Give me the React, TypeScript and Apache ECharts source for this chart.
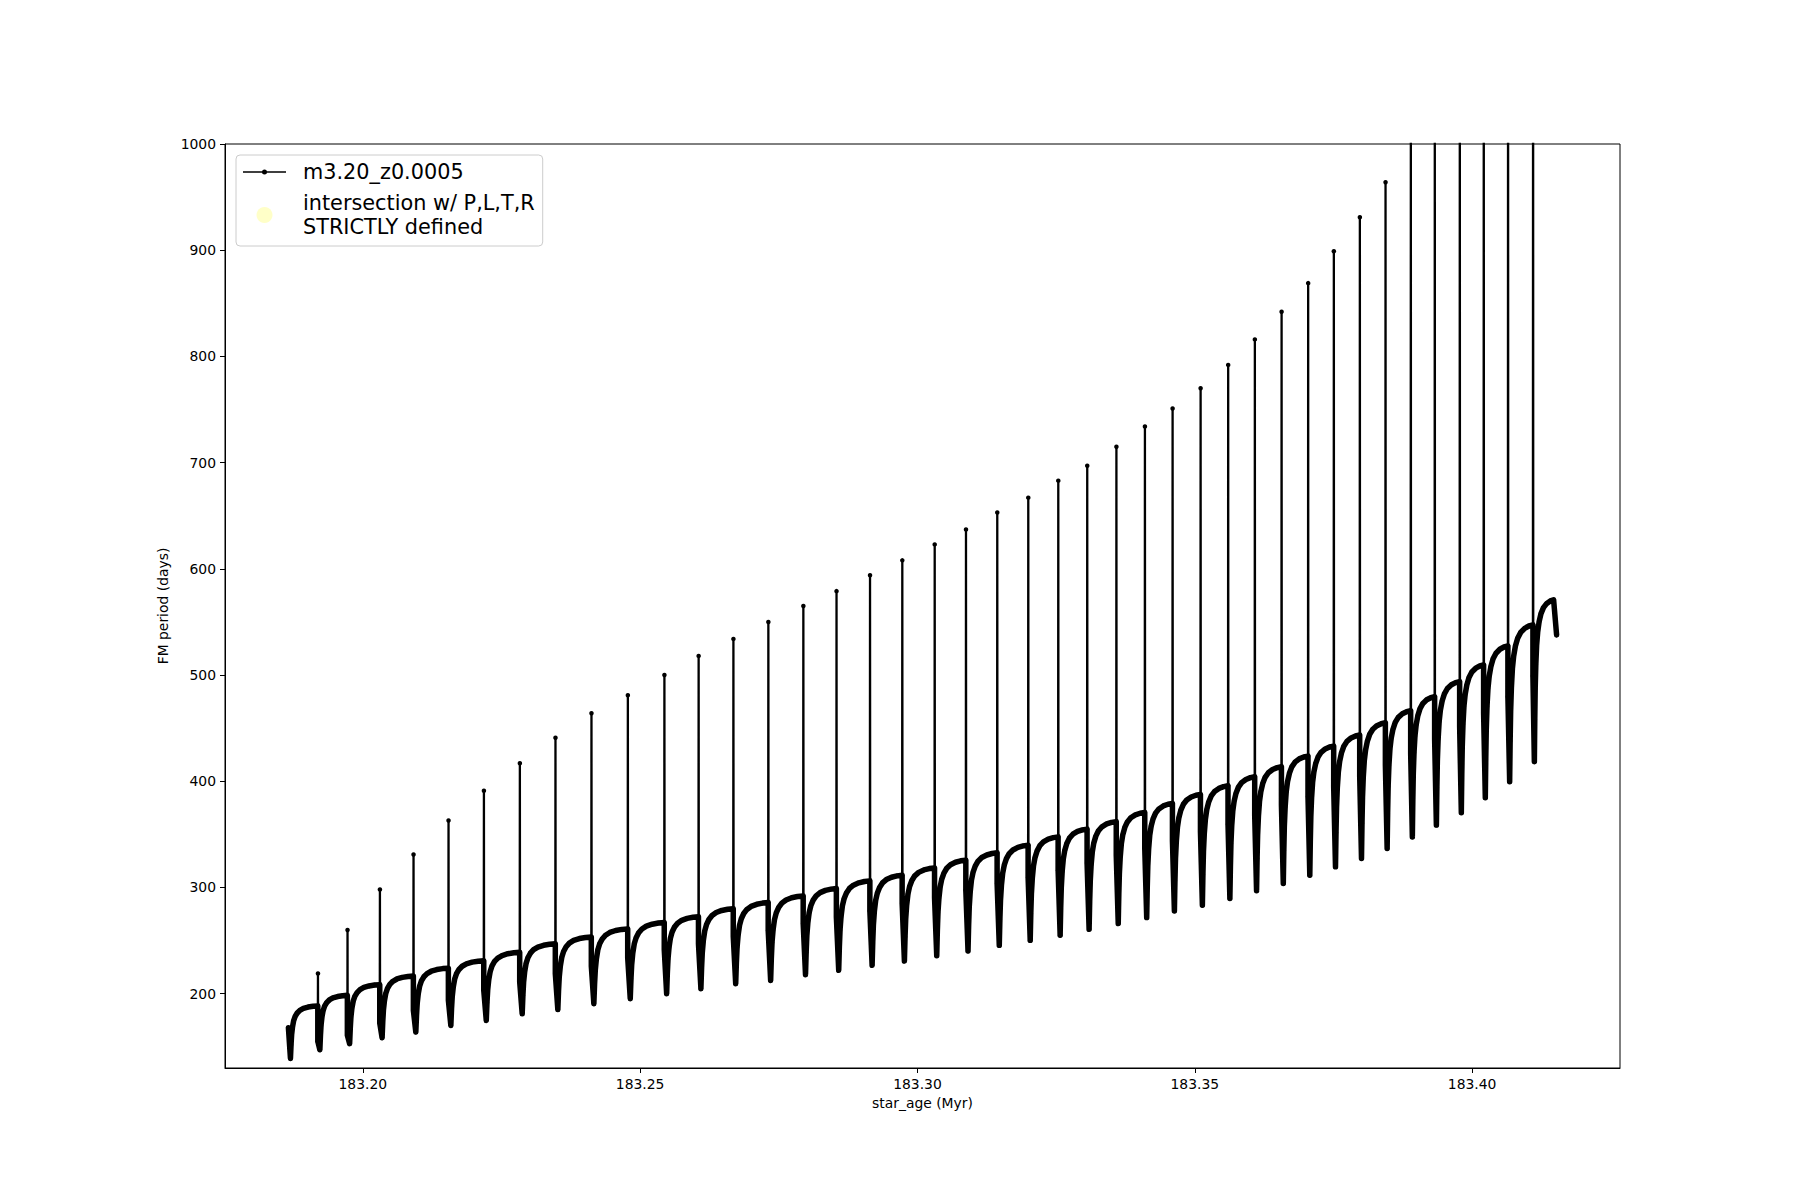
import React, { useEffect, useRef } from 'react';
import * as echarts from 'echarts';

// ---- axis ticks ----
const xTicks = [183.2, 183.25, 183.3, 183.35, 183.4];
const yTicks = [200, 300, 400, 500, 600, 700, 800, 900, 1000];

// ---- series: m3.20_z0.0005 (FM period vs star_age) ----
const startAge = 183.18659;
const startPeriod = 168;
const startTrough = 139;

// age of each thermal pulse (Myr)
const pulseAge = [
  183.19189, 183.19722, 183.20306, 183.20912, 183.21543, 183.22181, 183.22829, 183.23471,
  183.2412, 183.24776, 183.25435, 183.26052, 183.26679, 183.27309, 183.2794, 183.28538,
  183.29142, 183.29724, 183.30308, 183.30872, 183.31436, 183.31995, 183.32536, 183.33058,
  183.33584, 183.34098, 183.34597, 183.35102, 183.35599, 183.3608, 183.36562, 183.37041,
  183.37504, 183.37973, 183.38436, 183.38892, 183.39324, 183.39775, 183.40207, 183.40645,
  183.41096,
];
// period right before each pulse (top of the recovered branch)
const plateauBefore = [
  188.5, 198.4, 208.5, 216.6, 224, 231, 239, 247,
  253.4, 261, 267, 272.5, 280, 285.8, 292, 299,
  306.2, 311.5, 318.4, 325.7, 332.6, 339.8, 347.6, 354.9,
  362, 370.6, 379.1, 387.6, 395.7, 404.2, 413.6, 423.7,
  433.1, 443.5, 455.1, 466.4, 479.6, 493.8, 509.5, 527.4,
  547.2,
];
// small drop at the start of each pulse
const shelfPeriod = [
  155, 160.7, 172.3, 184.3, 193.7, 203.1, 211, 218.9,
  226, 234, 241.5, 247, 254, 259.7, 266, 272.2,
  277.9, 284.8, 290.5, 297.4, 303.7, 309.4, 316.2, 323.1,
  330.4, 336.7, 343.9, 352.4, 359.6, 368, 377.5, 385.4,
  394.8, 404.9, 415.2, 426.3, 439.5, 451.4, 464, 479.6,
  499.1,
];
// spike maximum of each pulse (the last six run off the top of the axes)
const peakPeriod = [
  219, 260, 298, 331, 363, 391, 417, 441,
  464, 481, 500, 518, 534, 550, 565, 579,
  594, 608, 623, 637, 653, 667, 683, 697,
  715, 734, 751, 770, 792, 816, 842, 869,
  899, 931, 964, 1010, 1060, 1110, 1160, 1220,
  1290,
];
// deepest point after each pulse
const troughPeriod = [
  147.2, 152.9, 158.5, 163.8, 170, 174.8, 181, 185,
  190.6, 195.3, 200, 204.7, 209.4, 212.5, 217.9, 222,
  226.7, 230.7, 235.8, 240.2, 245.5, 250.2, 255, 260.6,
  266, 271.6, 277.9, 283.2, 289.6, 297, 303.7, 311.5,
  319.4, 327.3, 336.7, 347.6, 358.7, 370.3, 384.4, 399.5,
  418.4,
];
const endPeakAge = 183.41469;
const endPeakPeriod = 570.8;
const endAge = 183.41523;
const endPeriod = 537.8;

// shape of the recovery branch
// (fraction of the interpulse time, fraction of the trough->plateau rise)
const recoveryAt = [0.07, 0.09, 0.11, 0.14, 0.18, 0.23, 0.3, 0.39, 0.51, 0.67, 0.84, 1.0];
const recoveryLevel = [0, 0.26, 0.45, 0.6, 0.72, 0.8, 0.865, 0.915, 0.952, 0.978, 0.993, 1.0];

// ---- second legend entry (no points drawn) ----
const intersectionPoints: [number, number][] = [];

const SERIES_NAME = 'm3.20_z0.0005';
const SCATTER_NAME = 'intersection w/ P,L,T,R\nSTRICTLY defined';

function buildPaths() {
  const thin: [number, number][] = [];
  const thick: [number, number][] = [];
  const push = (p: [number, number], inThick = true) => {
    thin.push(p);
    if (inThick) thick.push(p);
  };
  const recover = (a: number, b: number, trough: number, plateau: number) => {
    for (let k = 0; k < recoveryAt.length; k++) {
      push([a + recoveryAt[k] * (b - a), trough + recoveryLevel[k] * (plateau - trough)]);
    }
  };
  push([startAge, startPeriod]);
  recover(startAge, pulseAge[0], startTrough, plateauBefore[0]);
  const n = pulseAge.length;
  for (let i = 0; i < n; i++) {
    const a = pulseAge[i];
    push([a, shelfPeriod[i]]);
    push([a + 0.00003, peakPeriod[i]], false);
    push([a + 0.00006, shelfPeriod[i]]);
    const last = i === n - 1;
    const b = last ? endPeakAge : pulseAge[i + 1];
    const plateau = last ? endPeakPeriod : plateauBefore[i + 1];
    recover(a, b, troughPeriod[i], plateau);
  }
  push([endAge, endPeriod]);
  return { thin, thick };
}

const FONT = 'DejaVu Sans';

export default function App() {
  const ref = useRef<HTMLDivElement>(null);
  useEffect(() => {
    if (!ref.current) return;
    const chart = echarts.init(ref.current, null, { renderer: 'svg' });
    const { thin, thick } = buildPaths();
    const lineIcon =
      'path://M0,1.75 L43,1.75 L43,3.25 L0,3.25 Z M19,2.5 A2.5,2.5 0 1,1 24,2.5 A2.5,2.5 0 1,1 19,2.5 Z';
    chart.setOption({
      animation: false,
      backgroundColor: '#ffffff',
      grid: {
        left: 225,
        right: 180,
        top: 144,
        bottom: 132,
        show: true,
        borderColor: '#000',
        borderWidth: 1,
        backgroundColor: 'transparent',
      },
      legend: {
        left: 236,
        top: 155,
        orient: 'vertical',
        itemWidth: 43,
        itemHeight: 16,
        itemGap: 7,
        padding: [5, 8, 7, 7],
        borderColor: '#cccccc',
        borderWidth: 1,
        borderRadius: 4,
        backgroundColor: 'rgba(255,255,255,0.8)',
        selectedMode: false,
        itemStyle: { borderWidth: 0 },
        textStyle: {
          fontFamily: FONT,
          fontSize: 20.8,
          color: '#000',
          lineHeight: 24,
          padding: [0, 0, 0, 12],
        },
        data: [
          { name: SERIES_NAME, icon: lineIcon, itemStyle: { color: '#000' } },
          { name: SCATTER_NAME, icon: 'circle', itemStyle: { color: 'rgba(255,255,40,0.32)' } },
        ],
      },
      xAxis: {
        type: 'value',
        min: 183.17516,
        max: 183.42666,
        name: 'star_age (Myr)',
        nameLocation: 'middle',
        nameGap: 27,
        nameTextStyle: { fontFamily: FONT, fontSize: 13.9, color: '#000' },
        axisLine: { show: true, lineStyle: { color: '#000', width: 1 } },
        axisTick: {
          show: true,
          length: 5,
          lineStyle: { color: '#000', width: 1 },
          customValues: xTicks,
        },
        axisLabel: {
          customValues: xTicks,
          formatter: (v: number) => v.toFixed(2),
          color: '#000',
          fontFamily: FONT,
          fontSize: 13.9,
          margin: 9,
        },
        splitLine: { show: false },
      },
      yAxis: {
        type: 'value',
        min: 130,
        max: 1000,
        name: 'FM period (days)',
        nameLocation: 'middle',
        nameGap: 49,
        nameTextStyle: { fontFamily: FONT, fontSize: 13.9, color: '#000' },
        axisLine: { show: true, lineStyle: { color: '#000', width: 1 } },
        axisTick: {
          show: true,
          length: 5,
          lineStyle: { color: '#000', width: 1 },
          customValues: yTicks,
        },
        axisLabel: {
          customValues: yTicks,
          formatter: (v: number) => String(v),
          color: '#000',
          fontFamily: FONT,
          fontSize: 13.9,
          margin: 9,
        },
        splitLine: { show: false },
      },
      series: [
        {
          name: SERIES_NAME,
          type: 'line',
          data: thin,
          color: '#000',
          symbol: 'circle',
          symbolSize: 4.5,
          showSymbol: true,
          clip: true,
          silent: true,
          itemStyle: { color: '#000', borderWidth: 0 },
          lineStyle: { color: '#000', width: 2.3, join: 'round', cap: 'round' },
          z: 2,
        },
        {
          name: SERIES_NAME,
          type: 'line',
          data: thick,
          color: '#000',
          showSymbol: false,
          clip: true,
          silent: true,
          lineStyle: { color: '#000', width: 5.5, join: 'round', cap: 'round' },
          z: 3,
        },
        {
          name: SCATTER_NAME,
          type: 'scatter',
          data: intersectionPoints,
          color: 'rgba(255,255,40,0.32)',
          itemStyle: { color: 'rgba(255,255,40,0.32)' },
          symbolSize: 16,
        },
      ],
    });
    return () => chart.dispose();
  }, []);
  return (
    <div
      ref={ref}
      style={{ position: 'fixed', left: 0, top: 0, width: 1800, height: 1200, background: '#fff' }}
    />
  );
}
